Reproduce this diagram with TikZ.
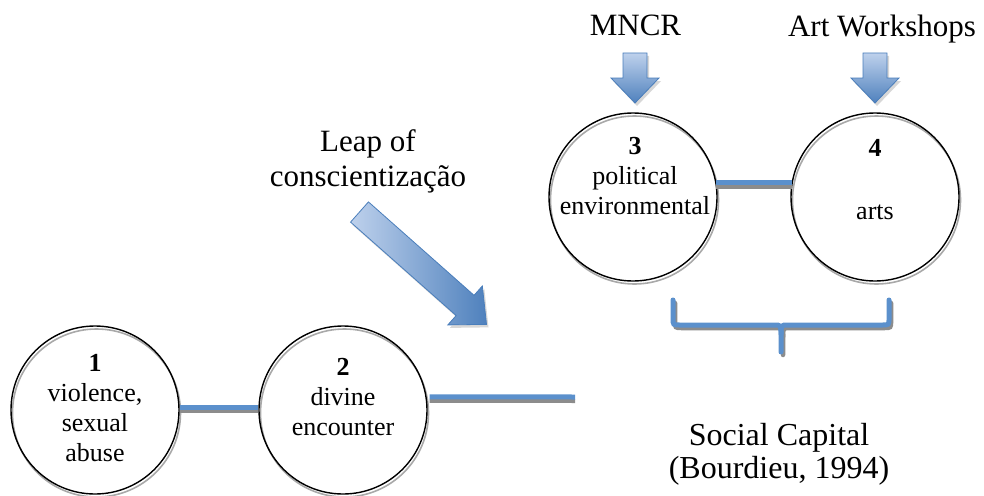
\documentclass[tikz,border=0pt]{standalone}
\usepackage{fontspec}
\setmainfont{Liberation Serif}
\definecolor{lnblue}{RGB}{91,144,204}
\definecolor{lnshadow}{RGB}{140,140,140}
\definecolor{arlight}{RGB}{190,209,236}
\definecolor{ardark}{RGB}{79,129,189}
\definecolor{arborder}{RGB}{74,126,187}
\tikzset{
  ring/.style={circle, minimum size=168pt, inner sep=0pt, draw=black, line width=1.4pt},
  ringshadow/.style={circle, minimum size=168pt, inner sep=0pt, draw=lnshadow!75, line width=1.6pt},
  ctext/.style={align=center, font=\fontsize{26}{30}\selectfont, inner sep=0pt},
  lbl/.style={align=center, font=\fontsize{31}{35}\selectfont, inner sep=0pt},
  sclbl/.style={align=center, font=\fontsize{32}{33}\selectfont, inner sep=0pt},
  bar/.style={line width=5pt, draw=lnblue},
  barshadow/.style={line width=4pt, draw=lnshadow},
  downarrow/.style={draw=arborder, line width=0.8pt, top color=arlight, bottom color=ardark, line join=miter},
  leaparrow/.style={draw=arborder, line width=0.8pt, left color=arlight, right color=ardark, line join=miter},
  arrowshadow/.style={fill=lnshadow!35, draw=none},
}
\begin{document}
\begin{tikzpicture}[x=1pt,y=-1pt]
\useasboundingbox (0,0) rectangle (984,495);

% circle shadows
\node[ringshadow] (s1) at (96.5,413) {};
\node[ringshadow] (s2) at (344.5,413) {};
\node[ringshadow] (s3) at (634.5,200) {};
\node[ringshadow] (s4) at (876.5,200) {};
% circles
\node[ring] (c1) at (95,410) {};
\node[ring] (c2) at (343,410) {};
\node[ring] (c3) at (633,197) {};
\node[ring] (c4) at (875,197) {};

% circle texts
\node[ctext] (t1) at (95,408) {\textbf{1}\\violence,\\sexual\\abuse};
\node[ctext] (t2) at (343,397) {\textbf{2}\\divine\\encounter};
\node[ctext] (t3) at (635,176) {\textbf{3}\\political\\environmental};
\node[ctext] (t4) at (875,180) {\textbf{4}\\[33pt]arts};

% connectors
\coordinate (e2) at (575,397);
\draw[barshadow] ([yshift=-4pt]c1.2) -- ([yshift=-4pt]c2.178);
\draw[bar] (c1.2) -- (c2.178);
\draw[barshadow] ([shift={(3pt,-4pt)}]c2.9) -- ([yshift=-4pt]e2);
\draw[bar] ([xshift=3pt]c2.9) -- (e2);
\draw[barshadow] ([yshift=-4.5pt]c3.10) -- ([yshift=-4.5pt]c4.170);
\draw[bar] (c3.10) -- (c4.170);

% brace
\begin{scope}[shift={(2,3)}]
\draw[barshadow, line width=4.5pt, line cap=round] (673,300) -- (673,318) .. controls (673,325) .. (680,325) -- (774,325) .. controls (781,325) .. (781,334) -- (781,352);
\draw[barshadow, line width=4.5pt, line cap=round] (781,334) .. controls (781,325) .. (788,325) -- (882,325) .. controls (889,325) .. (889,318) -- (889,300);
\end{scope}
\draw[bar, line cap=round] (673,300) -- (673,318) .. controls (673,325) .. (680,325) -- (774,325) .. controls (781,325) .. (781,334) -- (781,352);
\draw[bar, line cap=round] (781,334) .. controls (781,325) .. (788,325) -- (882,325) .. controls (889,325) .. (889,318) -- (889,300);

% down arrows
\begin{scope}[shift={(635,0)}]
\fill[arrowshadow] (-10,56) -- (14,56) -- (14,81) -- (26,81) -- (2,106) -- (-22,81) -- (-10,81) -- cycle;
\draw[downarrow] (-12,53) -- (12,53) -- (12,78) -- (24,78) -- (0,103) -- (-24,78) -- (-12,78) -- cycle;
\end{scope}
\begin{scope}[shift={(875,0)}]
\fill[arrowshadow] (-10,56) -- (14,56) -- (14,81) -- (26,81) -- (2,106) -- (-22,81) -- (-10,81) -- cycle;
\draw[downarrow] (-12,53) -- (12,53) -- (12,78) -- (24,78) -- (0,103) -- (-24,78) -- (-12,78) -- cycle;
\end{scope}

% leap arrow
\begin{scope}[shift={(361.5,215)}, rotate=-41.5]
\fill[arrowshadow] (0,13.5) -- (141,13.5) -- (141,26) -- (169.6,0) -- (141,-26) -- (141,-13.5) -- (0,-13.5) -- cycle;
\end{scope}
\begin{scope}[shift={(359.5,212)}, rotate=-41.5]
\draw[leaparrow] (0,13.5) -- (141,13.5) -- (141,26) -- (169.6,0) -- (141,-26) -- (141,-13.5) -- (0,-13.5) -- cycle;
\end{scope}

% labels
\node[lbl] (mncr) at (635.5,25.5) {MNCR};
\node[lbl] (artw) at (882,29) {Art Workshops};
\node[lbl] (leap) at (368,161) {Leap of\\conscientização};
\node[sclbl] (soc) at (779,454) {Social Capital\\(Bourdieu, 1994)};
\end{tikzpicture}
\end{document}
